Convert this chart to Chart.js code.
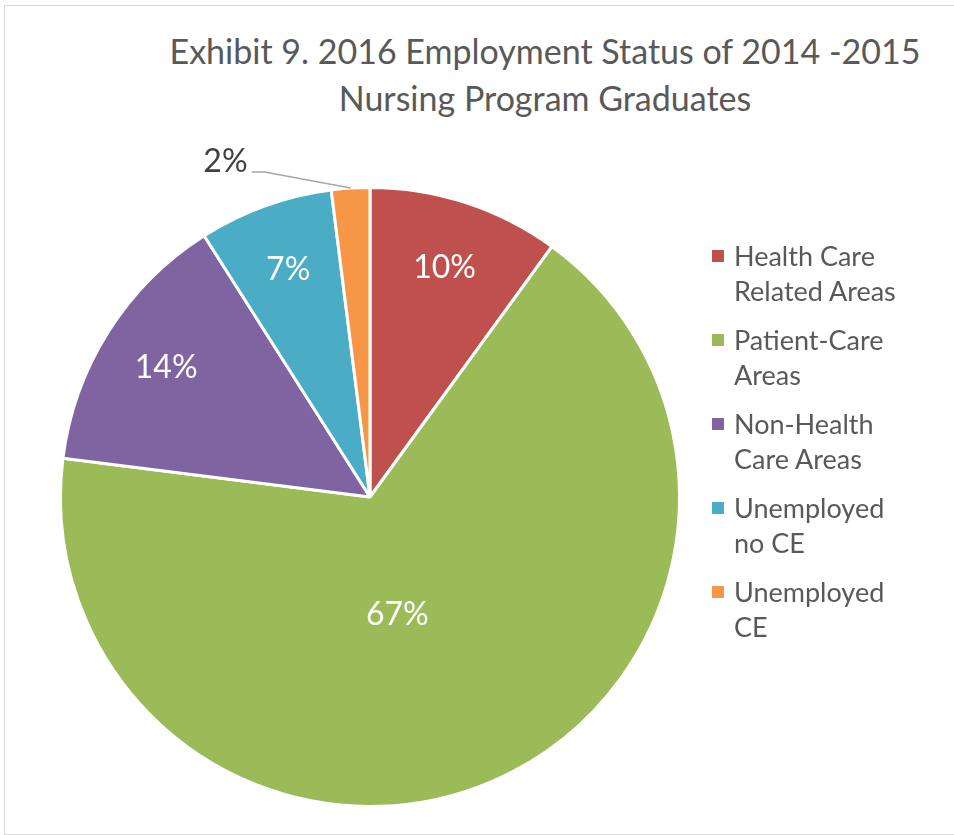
<!DOCTYPE html>
<html>
<head>
<meta charset="utf-8">
<script src="https://cdn.jsdelivr.net/npm/chart.js@4/dist/chart.umd.min.js"></script>
<style>
  body { margin: 0; background: #fff; font-family: Lato, "Open Sans", sans-serif; }
  #wrap { position: relative; width: 954px; height: 835px; overflow: hidden; }
  #frame { position: absolute; left: 4px; top: 5px; width: 1000px; height: 828px; border: 1px solid #d9d9d9; }
  #title { position: absolute; left: 145px; width: 800px; top: 27px; text-align: center;
           color: #595959; font-size: 34px; line-height: 47px; }
  #legend { position: absolute; left: 712px; top: 238px; color: #595959; font-size: 27px; }
  .item { position: relative; padding-left: 22px; line-height: 35px; margin-bottom: 14px; }
  .box { position: absolute; left: 0; top: 12px; width: 12px; height: 12px; }
  canvas { position: absolute; left: 0; top: 0; }
</style>
</head>
<body>
<div id="wrap">
  <div id="frame"></div>
  <div id="title">Exhibit 9. 2016 Employment Status of 2014 -2015<br>Nursing Program Graduates</div>
  <canvas id="pie" width="954" height="835"></canvas>
  <div id="legend"></div>
</div>
<script>
const categories = [
  ["Health Care", "Related Areas"],
  ["Patient-Care", "Areas"],
  ["Non-Health", "Care Areas"],
  ["Unemployed", "no CE"],
  ["Unemployed", "CE"]
];
const shares = [10, 67, 14, 7, 2];
const colors = ["#C0504D", "#9BBB59", "#8064A2", "#4BACC6", "#F79646"];

// legend as html, two lines per entry
const legend = document.getElementById('legend');
categories.forEach(function(lines, i){
  const div = document.createElement('div');
  div.className = 'item';
  div.innerHTML = '<span class="box" style="background:' + colors[i] + '"></span>' + lines.join('<br>');
  legend.appendChild(div);
});

// percentage labels, roughly where excel puts them
const labelPlugin = {
  id: 'pctLabels',
  afterDatasetsDraw: function(chart){
    const ctx = chart.ctx;
    const arcs = chart.getDatasetMeta(0).data;
    ctx.save();
    ctx.font = '32px Lato, "Open Sans", sans-serif';
    ctx.textBaseline = 'middle';
    arcs.forEach(function(arc, i){
      const p = arc.getProps(['x', 'y', 'startAngle', 'endAngle', 'outerRadius'], true);
      let mid = (p.startAngle + p.endAngle) / 2;
      let r = p.outerRadius * 0.78;
      const text = shares[i] + '%';
      if (shares[i] < 5) {
        // outside label with a leader line
        const ex = p.x + Math.cos(mid) * p.outerRadius;
        const ey = p.y + Math.sin(mid) * p.outerRadius;
        ctx.strokeStyle = '#a6a6a6';
        ctx.lineWidth = 1.5;
        ctx.beginPath();
        ctx.moveTo(ex, ey);
        ctx.lineTo(ex - 86, ey - 16);
        ctx.lineTo(ex - 99, ey - 16);
        ctx.stroke();
        ctx.fillStyle = '#404040';
        ctx.textAlign = 'right';
        ctx.fillText(text, ex - 103, ey - 26);
        return;
      }
      if (shares[i] > 50) { mid += 0.18; r = p.outerRadius * 0.39; }
      ctx.fillStyle = '#ffffff';
      ctx.textAlign = 'center';
      ctx.fillText(text, p.x + Math.cos(mid) * r, p.y + Math.sin(mid) * r);
    });
    ctx.restore();
  }
};

new Chart(document.getElementById('pie'), {
  type: 'pie',
  data: {
    labels: categories.map(function(l){ return l.join(' '); }),
    datasets: [{
      data: shares,
      backgroundColor: colors,
      borderColor: '#ffffff',
      borderWidth: 3
    }]
  },
  options: {
    responsive: false,
    animation: false,
    layout: { padding: { left: 59, top: 186, right: 273, bottom: 27 } },
    plugins: {
      legend: { display: false },
      title: { display: false },
      tooltip: { enabled: false }
    }
  },
  plugins: [labelPlugin]
});
</script>
</body>
</html>
